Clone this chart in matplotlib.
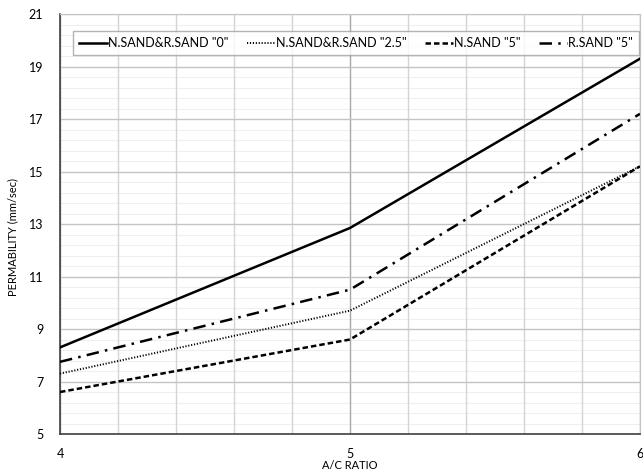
import matplotlib
matplotlib.use("Agg")
import matplotlib.pyplot as plt
from matplotlib.lines import Line2D
import numpy as np

plt.rcParams["font.family"] = ["Lato", "DejaVu Sans"]

ac_ratio = [4, 5, 6]
series_labels = ['N.SAND&R.SAND "0"', 'N.SAND&R.SAND "2.5"', 'N.SAND "5"', 'R.SAND "5"']
sand_0 = [8.3, 12.85, 19.3]
sand_2_5 = [7.3, 9.7, 15.2]
nsand_5 = [6.6, 8.6, 15.2]
rsand_5 = [7.75, 10.5, 17.2]
x_ticks = [4, 5, 6]
y_ticks = [5, 7, 9, 11, 13, 15, 17, 19, 21]

styles = [
    dict(linestyle="-", linewidth=1.8),
    dict(linestyle=(0, (0.6, 0.9)), linewidth=1.4),
    dict(linestyle=(0, (2.2, 1.2)), linewidth=1.8),
    dict(linestyle=(0, (5, 2.5, 1, 2.5)), linewidth=1.8),
]

fig = plt.figure(figsize=(6.43, 4.70), dpi=100)
ax = fig.add_axes([0.0933, 0.0766, 0.902, 0.8934])

for ys, st, lab in zip([sand_0, sand_2_5, nsand_5, rsand_5], styles, series_labels):
    ax.plot(ac_ratio, ys, color="black", solid_joinstyle="round",
            dash_capstyle="butt", zorder=3, label=lab, **st)

ax.set_xlim(4, 6)
ax.set_ylim(5, 21)
ax.set_xticks(x_ticks)
x_minor = [v for v in np.round(np.arange(4, 6.01, 0.2), 2) if v not in x_ticks]
ax.set_xticks(x_minor, minor=True)
ax.set_yticks(y_ticks)

# faint horizontal minor grid, kept underneath the vertical grid lines
for yv in np.round(np.arange(5, 21.01, 0.4), 2):
    if yv not in y_ticks:
        ax.axhline(yv, color="#efefef", linewidth=0.8, zorder=0.2)

ax.grid(which="major", axis="x", color="#a6a6a6", linewidth=1.0)
ax.grid(which="minor", axis="x", color="#d4d4d4", linewidth=1.0)
ax.grid(which="major", axis="y", color="#c4c4c4", linewidth=1.0)
ax.set_axisbelow(True)

ax.tick_params(which="both", length=0)
ax.tick_params(axis="x", pad=10, labelsize=9)
ax.tick_params(axis="y", pad=12, labelsize=9)

for side in ("left", "bottom"):
    ax.spines[side].set_color("#404040")
    ax.spines[side].set_linewidth(1.2)
for side in ("top", "right"):
    ax.spines[side].set_color("#c4c4c4")

ax.set_xlabel("A/C RATIO", fontsize=8, labelpad=0)
ax.set_ylabel("PERMABILITY (mm/sec)", fontsize=8)
ax.yaxis.set_label_coords(-0.072, 0.47)

handles = [Line2D([], [], color="black", **st) for st in styles]
leg = ax.legend(handles, series_labels, loc="upper left", bbox_to_anchor=(0.012, 0.975),
                ncol=4, fontsize=9, frameon=True, fancybox=False, handlelength=2.2,
                handletextpad=0.1, columnspacing=1.5, borderpad=0.5)
leg.get_frame().set_edgecolor("#a0a0a0")
leg.get_frame().set_linewidth(1.0)

fig.savefig("out.png", dpi=100)
